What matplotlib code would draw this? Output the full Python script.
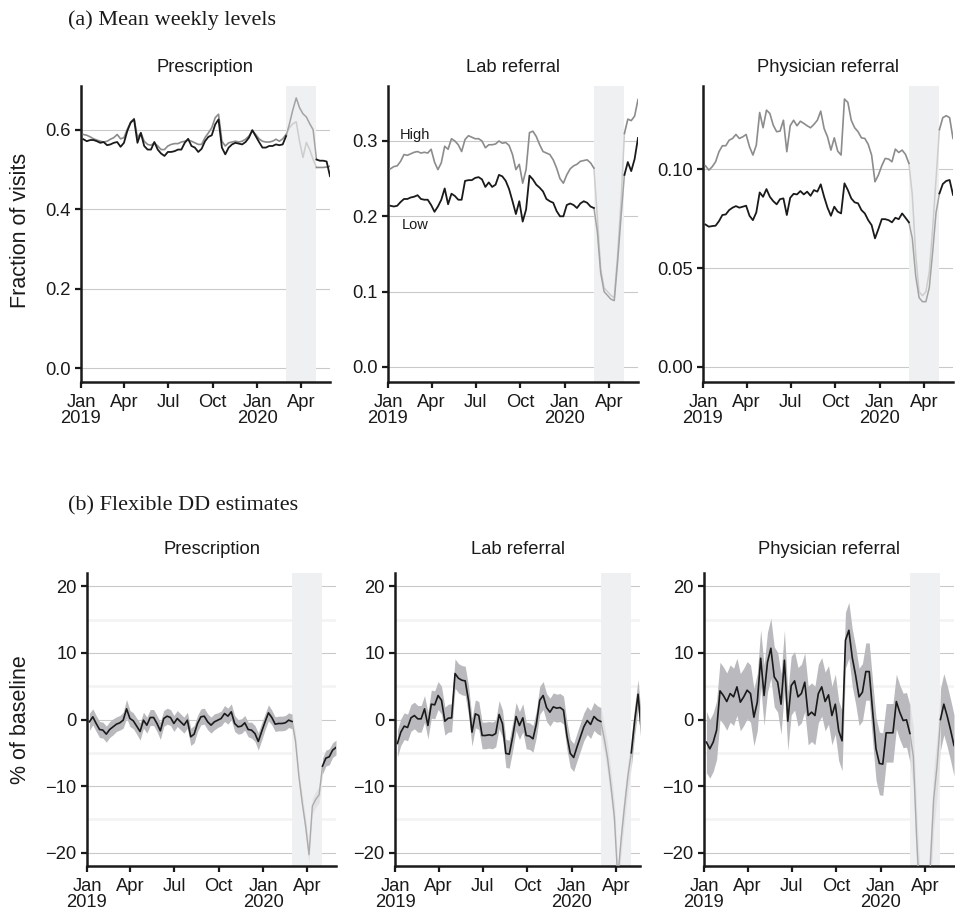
import matplotlib
matplotlib.use('Agg')
import matplotlib.pyplot as plt
import numpy as np
import pandas as pd

plt.rcParams['font.family'] = ['Liberation Sans', 'DejaVu Sans']

# ---------------- data ----------------
weeks = pd.date_range('2019-01-06', periods=74, freq='7D')
shade_start, shade_end = pd.Timestamp('2020-03-01'), pd.Timestamp('2020-05-03')

tick_dates = pd.to_datetime(['2019-01-01', '2019-04-01', '2019-07-01',
                             '2019-10-01', '2020-01-01', '2020-04-01'])
tick_labels = ['Jan\n2019', 'Apr', 'Jul', 'Oct', 'Jan\n2020', 'Apr']

panel_titles = ['Prescription', 'Lab referral', 'Physician referral']

presc_low = [0.576, 0.571, 0.574, 0.574, 0.571, 0.567, 0.569, 0.561, 0.563, 0.567,
             0.569, 0.557, 0.567, 0.597, 0.618, 0.626, 0.567, 0.592, 0.559, 0.550,
             0.550, 0.569, 0.550, 0.540, 0.534, 0.544, 0.544, 0.546, 0.550, 0.550,
             0.567, 0.577, 0.559, 0.555, 0.544, 0.552, 0.571, 0.582, 0.586, 0.613,
             0.626, 0.555, 0.538, 0.555, 0.563, 0.567, 0.565, 0.563, 0.569, 0.580,
             0.599, 0.584, 0.569, 0.555, 0.555, 0.559, 0.559, 0.563, 0.561, 0.563,
             0.584, 0.615, 0.650, 0.680, 0.655, 0.640, 0.632, 0.615, 0.600, 0.525,
             0.522, 0.522, 0.520, 0.483]
presc_high = [0.588, 0.586, 0.582, 0.577, 0.574, 0.571, 0.569, 0.571, 0.576, 0.580,
              0.588, 0.577, 0.580, 0.601, 0.619, 0.628, 0.580, 0.592, 0.571, 0.563,
              0.561, 0.567, 0.559, 0.550, 0.550, 0.559, 0.563, 0.565, 0.565, 0.569,
              0.571, 0.574, 0.571, 0.567, 0.563, 0.563, 0.580, 0.592, 0.605, 0.630,
              0.639, 0.571, 0.559, 0.567, 0.569, 0.571, 0.569, 0.571, 0.576, 0.584,
              0.597, 0.588, 0.577, 0.571, 0.569, 0.569, 0.571, 0.576, 0.571, 0.577,
              0.588, 0.605, 0.615, 0.620, 0.570, 0.530, 0.568, 0.550, 0.525, 0.505,
              0.505, 0.505, 0.506, 0.508]
lab_low = [0.214, 0.213, 0.214, 0.219, 0.223, 0.223, 0.225, 0.226, 0.228, 0.223,
           0.222, 0.222, 0.215, 0.206, 0.213, 0.222, 0.237, 0.216, 0.230, 0.227,
           0.222, 0.222, 0.247, 0.248, 0.248, 0.251, 0.252, 0.249, 0.239, 0.245,
           0.239, 0.242, 0.255, 0.253, 0.247, 0.236, 0.220, 0.203, 0.220, 0.193,
           0.209, 0.254, 0.249, 0.242, 0.238, 0.233, 0.223, 0.220, 0.218, 0.207,
           0.200, 0.200, 0.215, 0.217, 0.215, 0.211, 0.217, 0.220, 0.218, 0.213,
           0.211, 0.180, 0.125, 0.100, 0.095, 0.090, 0.088, 0.140, 0.200, 0.255,
           0.272, 0.260, 0.276, 0.304]
lab_high = [0.263, 0.266, 0.267, 0.273, 0.282, 0.281, 0.283, 0.285, 0.286, 0.284,
            0.285, 0.284, 0.289, 0.272, 0.262, 0.271, 0.293, 0.289, 0.303, 0.300,
            0.295, 0.286, 0.302, 0.307, 0.305, 0.303, 0.303, 0.300, 0.291, 0.295,
            0.295, 0.296, 0.300, 0.297, 0.298, 0.294, 0.282, 0.262, 0.269, 0.244,
            0.262, 0.311, 0.313, 0.306, 0.295, 0.286, 0.284, 0.282, 0.275, 0.264,
            0.250, 0.244, 0.255, 0.263, 0.267, 0.269, 0.273, 0.274, 0.275, 0.271,
            0.264, 0.200, 0.130, 0.105, 0.100, 0.095, 0.092, 0.150, 0.220, 0.310,
            0.329, 0.327, 0.333, 0.355]
phys_low = [0.0720, 0.0709, 0.0712, 0.0714, 0.0737, 0.0768, 0.0771, 0.0793, 0.0805, 0.0813,
            0.0805, 0.0810, 0.0815, 0.0764, 0.0742, 0.0781, 0.0882, 0.0860, 0.0899, 0.0860,
            0.0838, 0.0822, 0.0848, 0.0852, 0.0768, 0.0855, 0.0875, 0.0872, 0.0889, 0.0872,
            0.0886, 0.0865, 0.0894, 0.0886, 0.0923, 0.0860, 0.0805, 0.0764, 0.0810, 0.0785,
            0.0776, 0.0928, 0.0894, 0.0852, 0.0832, 0.0827, 0.0793, 0.0776, 0.0742, 0.0717,
            0.0650, 0.0697, 0.0747, 0.0747, 0.0742, 0.0731, 0.0754, 0.0747, 0.0776, 0.0754,
            0.0731, 0.0650, 0.0460, 0.0350, 0.0330, 0.0330, 0.0400, 0.0580, 0.0780, 0.0877,
            0.0925, 0.0940, 0.0945, 0.0870]
phys_high = [0.1017, 0.0995, 0.1012, 0.1037, 0.1088, 0.1118, 0.1118, 0.1146, 0.1155, 0.1175,
             0.1155, 0.1163, 0.1175, 0.1113, 0.1071, 0.1121, 0.1286, 0.1209, 0.1298, 0.1281,
             0.1222, 0.1189, 0.1192, 0.1247, 0.1088, 0.1219, 0.1247, 0.1219, 0.1242, 0.1231,
             0.1219, 0.1209, 0.1226, 0.1247, 0.1293, 0.1205, 0.1163, 0.1096, 0.1158, 0.1091,
             0.1071, 0.1354, 0.1337, 0.1247, 0.1209, 0.1189, 0.1158, 0.1155, 0.1125, 0.1071,
             0.0936, 0.0970, 0.1017, 0.1054, 0.1051, 0.1037, 0.1101, 0.1084, 0.1096, 0.1074,
             0.1029, 0.0870, 0.0570, 0.0380, 0.0360, 0.0380, 0.0480, 0.0700, 0.0950, 0.1200,
             0.1260, 0.1270, 0.1260, 0.1155]

presc_dd = [-0.35, 0.4, -0.6, -1.5, -1.6, -2.2, -1.5, -1.1, -0.7, -0.5,
            -0.1, 1.6, 0.15, -0.2, -1.0, -1.8, -0.1, -0.85, 0.3, 0.3,
            -0.6, -1.7, 0.15, 0.5, 0.3, -0.6, 0.15, -0.35, -0.85, -0.1,
            -2.6, -2.2, -0.6, 0.4, 0.5, -0.35, -0.85, -0.35, -0.1, 0.15,
            0.9, 0.5, 1.15, -0.6, -1.1, -1.0, -0.5, -1.5, -1.6, -2.1,
            -3.3, -1.8, -0.35, 1.0, 0.3, -0.7, -0.6, -0.6, -0.5, -0.1,
            -0.3, -3.2, -8.5, -12.5, -16.0, -20.3, -13.0, -12.0, -11.3, -7.0,
            -5.8, -5.6, -4.6, -4.2]
presc_ci = [1.3, 1.2, 1.2, 1.2, 1.2, 1.2, 1.2, 1.2, 1.1, 1.1,
            1.2, 1.4, 1.2, 1.2, 1.2, 1.3, 1.2, 1.2, 1.2, 1.2,
            1.2, 1.3, 1.2, 1.2, 1.2, 1.2, 1.2, 1.2, 1.2, 1.2,
            1.3, 1.3, 1.2, 1.2, 1.2, 1.2, 1.2, 1.2, 1.1, 1.1,
            1.2, 1.2, 1.2, 1.2, 1.1, 1.1, 1.1, 1.1, 1.2, 1.2,
            1.3, 1.3, 1.2, 1.2, 1.1, 1.1, 1.1, 1.1, 1.1, 1.1,
            1.1, 1.1, 1.2, 1.2, 1.3, 1.3, 1.2, 1.2, 1.2, 1.2,
            1.2, 1.2, 1.1, 1.1]
lab_dd = [-3.6, -1.9, -1.0, -1.2, 0.25, 0.6, 0.1, 0.1, 1.6, -0.9,
          2.3, 2.2, 3.6, 2.9, -0.25, 0.2, 0.25, 6.9, 6.2, 5.9,
          5.8, 2.8, -1.9, 0.85, 0.6, -2.4, -2.4, -2.3, -2.4, -2.1,
          0.75, -0.65, -5.1, -5.2, -2.6, 0.45, -0.9, 0.25, -2.4, -2.5,
          -2.9, -0.65, 2.9, 3.6, 1.8, 1.1, 1.9, 1.7, 1.8, 1.4,
          -2.4, -5.1, -5.7, -4.1, -2.6, -1.1, -0.15, -0.75, 0.45, -0.05,
          -0.3, -2.8, -5.8, -10.0, -14.6, -24.0, -18.0, -13.0, -8.5, -5.0,
          -0.2, 3.8, -2.0, -3.0]
lab_ci = [2.0, 2.0, 2.0, 2.0, 2.0, 2.0, 2.0, 2.0, 2.0, 2.0,
          2.1, 2.1, 2.1, 2.1, 2.1, 2.1, 2.1, 2.2, 2.2, 2.2,
          2.2, 2.2, 2.1, 2.1, 2.1, 2.0, 2.0, 2.0, 2.0, 2.0,
          2.1, 2.1, 2.1, 2.1, 2.1, 2.1, 2.1, 2.1, 2.0, 2.0,
          2.0, 2.0, 2.1, 2.1, 2.1, 2.1, 2.1, 2.1, 2.1, 2.1,
          2.1, 2.1, 2.1, 2.1, 2.1, 2.1, 2.1, 2.1, 2.1, 2.1,
          2.1, 2.1, 2.2, 2.2, 2.2, 2.2, 2.2, 2.2, 2.2, 2.2,
          2.2, 2.2, 2.2, 2.2]
phys_dd = [-3.4, -4.4, -3.4, -1.6, 4.3, 3.6, 2.7, 3.9, 3.4, 4.9,
           2.6, 3.4, 4.4, 3.9, 0.35, 2.6, 9.2, 3.6, 8.6, 10.7,
           6.4, 5.6, 2.3, 8.9, -0.25, 5.1, 5.8, 3.4, 3.9, 5.6,
           0.6, 1.1, 0.6, 3.9, 4.9, 2.7, 3.7, 0.6, 2.3, -1.7,
           -3.2, 11.9, 13.4, 9.3, 6.6, 3.4, 4.1, 7.2, 7.2, 1.3,
           -4.4, -6.6, -6.7, -2.0, -2.0, -2.0, 2.7, 1.1, -0.15, -0.05,
           -2.1, -5.5, -18.0, -28.0, -32.0, -30.0, -22.0, -12.0, -7.0, 0.0,
           2.3, 0.5, -1.6, -3.9]
phys_ci = [4.6, 4.4, 4.4, 4.4, 4.3, 4.3, 4.3, 4.3, 4.3, 4.3,
           4.3, 4.3, 4.3, 4.3, 4.3, 4.3, 4.3, 4.5, 4.5, 4.5,
           4.5, 4.5, 4.5, 4.5, 4.4, 4.4, 4.4, 4.4, 4.4, 4.4,
           4.4, 4.4, 4.4, 4.4, 4.4, 4.4, 4.4, 4.4, 4.5, 4.5,
           4.5, 4.2, 4.2, 4.3, 4.3, 4.3, 4.3, 4.3, 4.3, 4.5,
           4.7, 4.7, 4.7, 4.4, 4.4, 4.4, 4.1, 4.1, 4.1, 4.1,
           4.3, 4.5, 4.5, 4.5, 4.5, 4.5, 4.5, 4.5, 4.5, 4.6,
           4.6, 4.6, 4.6, 4.6]

top_series = [(presc_low, presc_high), (lab_low, lab_high), (phys_low, phys_high)]
bot_series = [(presc_dd, presc_ci), (lab_dd, lab_ci), (phys_dd, phys_ci)]
top_yticks = [[0.0, 0.2, 0.4, 0.6], [0.0, 0.1, 0.2, 0.3], [0.00, 0.05, 0.10]]
top_yfmt = ['{:.1f}', '{:.1f}', '{:.2f}']
top_ylims = [(-0.035, 0.71), (-0.02, 0.373), (-0.0076, 0.142)]
bot_yticks = [-20, -10, 0, 10, 20]
bot_yticklabels = ['\u221220', '\u221210', '0', '10', '20']
bot_minor = [-15, -5, 5, 15]

# ---------------- layout ----------------
W, H = 955, 919
fig = plt.figure(figsize=(W / 100, H / 100), dpi=100)


def add_ax(l, t, r, b):
    return fig.add_axes([l / W, 1 - b / H, (r - l) / W, (b - t) / H])


top_boxes = [(81, 86, 330, 382), (388, 86, 638, 382), (703, 86, 953, 382)]
bot_boxes = [(87, 573, 336, 866), (395, 573, 640, 866), (704, 573, 954, 866)]
x_left = pd.Timestamp('2019-01-01')
top_right = pd.Timestamp('2020-05-31')
bot_rights = [pd.Timestamp('2020-05-31'), pd.Timestamp('2020-05-21'), pd.Timestamp('2020-05-31')]

INK = '#1a1a1a'
SHADE = '#eff0f2'
FS = 13.2

pre = slice(0, 61)
trans = slice(60, 70)
post = slice(69, 74)


def style(ax, yticks, ylabels, xr):
    for s in ('top', 'right'):
        ax.spines[s].set_visible(False)
    for s in ('left', 'bottom'):
        ax.spines[s].set_linewidth(1.8)
        ax.spines[s].set_color(INK)
    ax.set_xlim(x_left, xr)
    ax.set_xticks(tick_dates)
    ax.set_xticklabels(tick_labels, linespacing=0.95)
    ax.set_yticks(yticks)
    ax.set_yticklabels(ylabels)
    ax.tick_params(direction='out', length=4.5, width=1.6, color=INK,
                   labelsize=FS, labelcolor=INK, pad=3)
    ax.tick_params(axis='x', pad=4)
    ax.grid(axis='y', which='major', color='#c9c9c9', lw=0.8)
    ax.set_axisbelow(True)
    ax.axvspan(shade_start, shade_end, color=SHADE, lw=0, zorder=1)


for i, (box, (lo, hi)) in enumerate(zip(top_boxes, top_series)):
    ax = add_ax(*box)
    style(ax, top_yticks[i], [top_yfmt[i].format(v) for v in top_yticks[i]], top_right)
    ax.set_ylim(*top_ylims[i])
    lo = np.asarray(lo)
    hi = np.asarray(hi)
    ax.plot(weeks[trans], hi[trans], color='#cdcdcd', lw=1.1, zorder=2)
    ax.plot(weeks[trans], lo[trans], color='#a3a3a3', lw=1.1, zorder=2)
    for sl in (pre, post):
        ax.plot(weeks[sl], hi[sl], color='#8c8c8c', lw=1.2, zorder=3)
        ax.plot(weeks[sl], lo[sl], color=INK, lw=1.3, zorder=4)
    if i == 1:
        ax.text(pd.Timestamp('2019-01-26'), 0.308, 'High', fontsize=10.5,
                color=INK, va='center', ha='left')
        ax.text(pd.Timestamp('2019-01-30'), 0.189, 'Low', fontsize=10.5,
                color=INK, va='center', ha='left')
    cx = (box[0] + box[2]) / 2
    fig.text(cx / W, 1 - 67 / H, panel_titles[i], ha='center', va='center',
             fontsize=FS, color=INK)

for i, (box, (dd, ci)) in enumerate(zip(bot_boxes, bot_series)):
    ax = add_ax(*box)
    style(ax, bot_yticks, bot_yticklabels, bot_rights[i])
    ax.set_yticks(bot_minor, minor=True)
    ax.tick_params(which='minor', length=0)
    ax.grid(axis='y', which='minor', color='#f3f3f3', lw=1.8)
    ax.set_ylim(-22, 22)
    dd = np.asarray(dd)
    ci = np.asarray(ci)
    ax.fill_between(weeks[trans], (dd - ci)[trans], (dd + ci)[trans],
                    color='#e2e2e5', lw=0, zorder=2)
    ax.plot(weeks[trans], dd[trans], color='#ababab', lw=1.0, zorder=3)
    for sl in (pre, post):
        ax.fill_between(weeks[sl], (dd - ci)[sl], (dd + ci)[sl],
                        color='#bababe', lw=0, zorder=3)
        ax.plot(weeks[sl], dd[sl], color=INK, lw=1.2, zorder=4)
    cx = (box[0] + box[2]) / 2
    fig.text(cx / W, 1 - 549 / H, panel_titles[i], ha='center', va='center',
             fontsize=FS, color=INK)

fig.text(68 / W, 1 - 20 / H, '(a) Mean weekly levels', family='Liberation Serif',
         fontsize=16, va='center', ha='left', color=INK)
fig.text(68 / W, 1 - 506 / H, '(b) Flexible DD estimates', family='Liberation Serif',
         fontsize=16, va='center', ha='left', color=INK)
fig.text(20 / W, 1 - 230 / H, 'Fraction of visits', rotation=90, ha='center',
         va='center', fontsize=15.5, color=INK)
fig.text(20 / W, 1 - 720 / H, '% of baseline', rotation=90, ha='center',
         va='center', fontsize=15.5, color=INK)

fig.savefig('out.png', dpi=100)
